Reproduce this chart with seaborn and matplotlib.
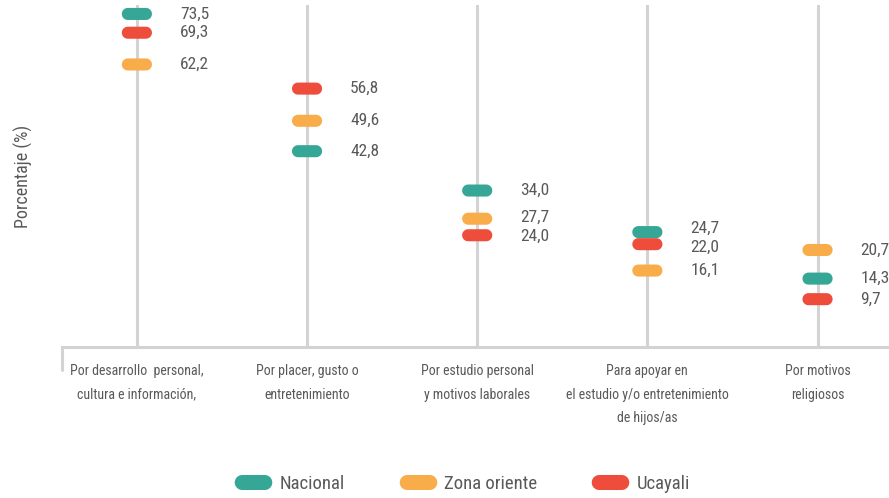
import numpy as np
import pandas as pd
import matplotlib
matplotlib.use("Agg")
import matplotlib.pyplot as plt
from matplotlib import font_manager
from matplotlib.path import Path
from matplotlib.lines import Line2D
import seaborn as sns

# data
categories = ["Por desarrollo  personal,\ncultura e información,",
              "Por placer, gusto o\nentretenimiento",
              "Por estudio personal\ny motivos laborales",
              "Para apoyar en\nel estudio y/o entretenimiento\nde hijos/as",
              "Por motivos\nreligiosos"]
series = ["Nacional", "Zona oriente", "Ucayali"]
nacional = [73.5, 42.8, 34.0, 24.7, 14.3]
zona_oriente = [62.2, 49.6, 27.7, 16.1, 20.7]
ucayali = [69.3, 56.8, 24.0, 22.0, 9.7]
colors = ["#36A796", "#F9AC4A", "#EE4D3C"]

df = pd.DataFrame({
    "pos": list(range(len(categories))) * 3,
    "valor": nacional + zona_oriente + ucayali,
    "serie": [s for s in series for _ in categories],
})

sns.set_theme(style="white")

# pick a condensed font if one is installed
names = {f.name for f in font_manager.fontManager.ttflist}
fam = "DejaVu Sans"
for cand in ["Liberation Sans Narrow", "Roboto Condensed", "Open Sans Condensed"]:
    if cand in names:
        fam = cand
        break
plt.rcParams["font.family"] = [fam, "DejaVu Sans"]
plt.rcParams["font.stretch"] = "condensed"
txt = "#595959"

# pill shaped marker
t = np.linspace(-np.pi / 2, np.pi / 2, 20)
r = 0.2
right = np.column_stack([0.3 + r * np.cos(t), r * np.sin(t)])
left = np.column_stack([-0.3 - r * np.cos(t), -r * np.sin(t)])
verts = np.vstack([right, left, right[:1]])
pill = Path(verts, closed=True)

fig = plt.figure(figsize=(8.89, 4.98), dpi=100)
ax = fig.add_axes([62 / 889, 151 / 498, 827 / 889, 342 / 498])

for i in range(len(categories)):
    ax.axvline(i, color="#d3d3d3", lw=2.2, zorder=1)

sns.scatterplot(data=df, x="pos", y="valor", hue="serie", palette=colors,
                marker=pill, s=470, linewidth=0, ax=ax, zorder=3, legend=False)

ax.set_xlim(-0.44, 4.42)
ax.set_ylim(-1, 75.5)

# label y positions, pushed apart a little when two values are too close
min_gap = 4.2
df["ylab"] = df["valor"]
for p, grp in df.groupby("pos"):
    idx = grp.sort_values("valor", ascending=False).index.tolist()
    for a, b in zip(idx[:-1], idx[1:]):
        gap = df.at[a, "ylab"] - df.at[b, "ylab"]
        if gap < min_gap:
            d = (min_gap - gap) / 2
            df.at[a, "ylab"] += d
            df.at[b, "ylab"] -= d

for _, row in df.iterrows():
    ax.annotate(f"{row['valor']:.1f}".replace(".", ","), (row["pos"], row["ylab"]),
                xytext=(31, 0), textcoords="offset points", ha="left", va="center",
                fontsize=12.5, color=txt)

ax.set_yticks([])
ax.set_xticks(range(len(categories)))
ax.set_xticklabels(categories, fontsize=10, color=txt, linespacing=1.9)
ax.tick_params(axis="x", length=0, pad=12)
ax.set_xlabel("")
ax.set_ylabel("Porcentaje (%)", fontsize=13, color=txt, labelpad=21)
for s in ["top", "right", "left"]:
    ax.spines[s].set_visible(False)
ax.spines["bottom"].set_color("#d3d3d3")
ax.spines["bottom"].set_linewidth(2.2)
ax.plot([0, 0], [0, -0.068], transform=ax.transAxes, color="#d3d3d3",
        lw=2.2, clip_on=False)

handles = [Line2D([], [], marker=pill, linestyle="none", markersize=27,
                  markerfacecolor=c, markeredgewidth=0) for c in colors]
fig.legend(handles, series, loc="center", ncol=3, frameon=False,
           bbox_to_anchor=(462 / 889, 14 / 498), fontsize=13.5, labelcolor=txt,
           columnspacing=2.9, handletextpad=0.4, handlelength=2)

fig.savefig("out.png", dpi=100)
